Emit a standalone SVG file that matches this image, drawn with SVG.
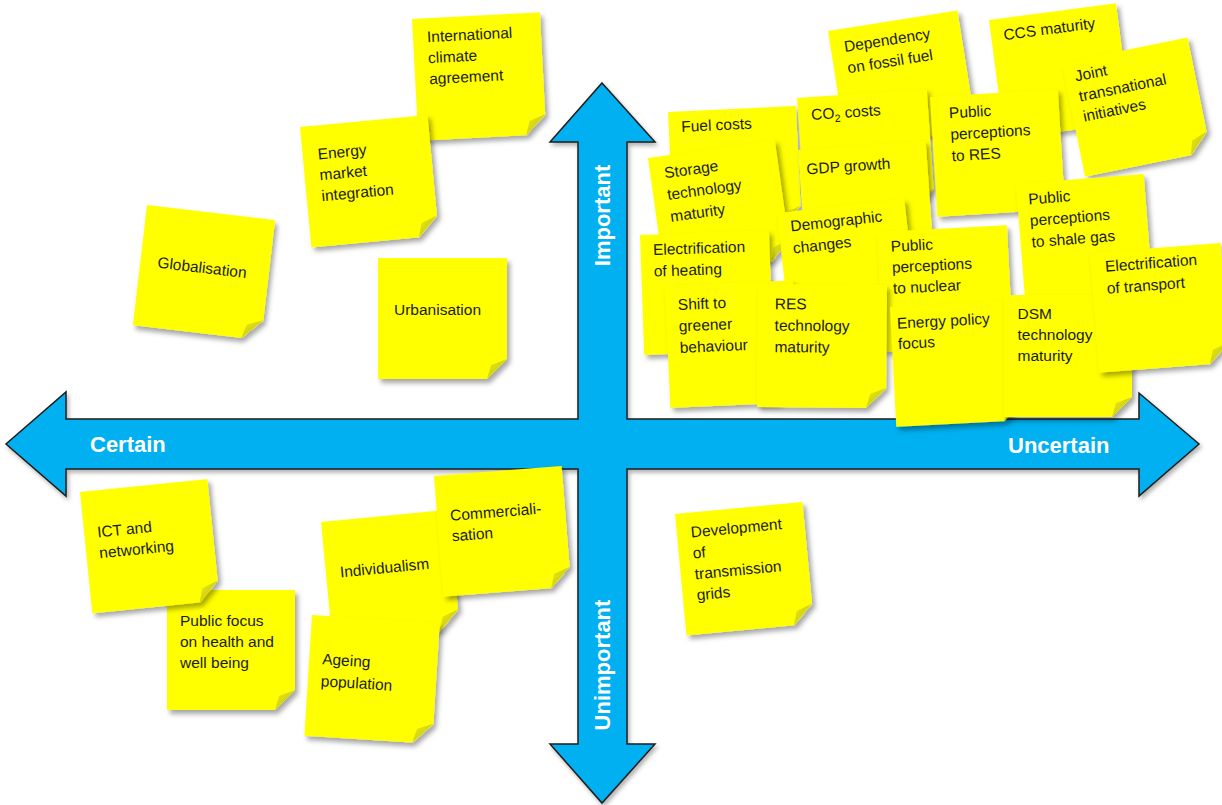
<svg xmlns="http://www.w3.org/2000/svg" width="1222" height="805" viewBox="0 0 1222 805">
<defs>
<filter id="sh" x="-15%" y="-15%" width="135%" height="135%"><feDropShadow dx="3" dy="4" stdDeviation="2.5" flood-color="#000" flood-opacity="0.35"/></filter>
<filter id="ash" x="-5%" y="-5%" width="110%" height="110%"><feDropShadow dx="2" dy="3" stdDeviation="2" flood-color="#000" flood-opacity="0.3"/></filter>
<linearGradient id="fg" x1="0" y1="0" x2="1" y2="1"><stop offset="0" stop-color="#eeee22"/><stop offset="1" stop-color="#b9b900"/></linearGradient>
<style>
.note{fill:#FFFF00;filter:url(#sh)}
.fold{fill:url(#fg)}
.t{font-family:'Liberation Sans',Arial,sans-serif;font-size:15.5px;fill:#1c1c1c}
.ax{font-family:'Liberation Sans',Arial,sans-serif;font-size:22px;font-weight:bold;fill:#fff}
.arrow{fill:#00B0F0;stroke:#1e1e1e;stroke-width:1.5;stroke-linejoin:miter;filter:url(#ash)}
</style>
</defs>
<rect width="1222" height="805" fill="#fff"/>
<g id="axes">
<polygon class="arrow" points="602,83 655,142 627,142 627,419 1139,419 1139,393 1199,444 1139,496 1139,469 627,469 627,744 655,744 602,803 550,744 578,744 578,469 66,469 66,496 6,444 66,392 66,419 578,419 578,142 550,142"/>
<text class="ax" x="90" y="452">Certain</text>
<text class="ax" x="1008" y="453">Uncertain</text>
<text class="ax" text-anchor="middle" transform="translate(610,215.5) rotate(-90)">Important</text>
<text class="ax" text-anchor="middle" transform="translate(610,665) rotate(-90)">Unimportant</text>
</g>
<g id="connectors"/>
<g id="n-intl" transform="translate(412,19) rotate(-3)"><path class="note" d="M0,0H128V102L108,122H0Z"/><path class="fold" d="M128,102L108,122L112,108Z"/><text class="t" x="14" y="24">International</text><text class="t" x="14" y="45">climate</text><text class="t" x="14" y="66">agreement</text></g>
<g id="n-energy-market" transform="translate(300,127) rotate(-5.4)"><path class="note" d="M0,0H128V101L108,121H0Z"/><path class="fold" d="M128,101L108,121L112,107Z"/><text class="t" x="15" y="34">Energy</text><text class="t" x="15" y="55">market</text><text class="t" x="15" y="76">integration</text></g>
<g id="n-globalisation" transform="translate(147,205) rotate(6.7)"><path class="note" d="M0,0H129V101L109,121H0Z"/><path class="fold" d="M129,101L109,121L113,107Z"/><text class="t" x="62" y="61" text-anchor="middle">Globalisation</text></g>
<g id="n-urbanisation" transform="translate(378,258)"><path class="note" d="M0,0H129V101L109,121H0Z"/><path class="fold" d="M129,101L109,121L113,107Z"/><text class="t" x="59.5" y="57" text-anchor="middle">Urbanisation</text></g>
<g id="n-public-focus" transform="translate(167,590)"><path class="note" d="M0,0H128V100L108,120H0Z"/><path class="fold" d="M128,100L108,120L112,106Z"/><text class="t" x="13" y="36">Public focus</text><text class="t" x="13" y="57">on health and</text><text class="t" x="13" y="78">well being</text></g>
<g id="n-ict" transform="translate(80,492) rotate(-5.8)"><path class="note" d="M0,0H128V102L108,122H0Z"/><path class="fold" d="M128,102L108,122L112,108Z"/><text class="t" x="13" y="47">ICT and</text><text class="t" x="13" y="68">networking</text></g>
<g id="n-individualism" transform="translate(321,522) rotate(-5.5)"><path class="note" d="M0,0H128V100L108,120H0Z"/><path class="fold" d="M128,100L108,120L112,106Z"/><text class="t" x="14" y="57">Individualism</text></g>
<g id="n-commercialisation" transform="translate(434,476) rotate(-4.5)"><path class="note" d="M0,0H128V101L108,121H0Z"/><path class="fold" d="M128,101L108,121L112,107Z"/><text class="t" x="13" y="46">Commerciali-</text><text class="t" x="13" y="66.5">sation</text></g>
<g id="n-ageing" transform="translate(312,615) rotate(3.6)"><path class="note" d="M0,0H128V101L108,121H0Z"/><path class="fold" d="M128,101L108,121L112,107Z"/><text class="t" x="13" y="48.5">Ageing</text><text class="t" x="13" y="70.5">population</text></g>
<g id="n-transmission" transform="translate(675,514) rotate(-5.4)"><path class="note" d="M0,0H128V102L108,122H0Z"/><path class="fold" d="M128,102L108,122L112,108Z"/><text class="t" x="14" y="25">Development</text><text class="t" x="14" y="46">of</text><text class="t" x="14" y="67">transmission</text><text class="t" x="14" y="88">grids</text></g>
<g id="n-dependency" transform="translate(828,31) rotate(-9)"><path class="note" d="M0,0H131V100L111,120H0Z"/><path class="fold" d="M131,100L111,120L115,106Z"/><text class="t" x="13.5" y="23.5">Dependency</text><text class="t" x="13.5" y="45">on fossil fuel</text></g>
<g id="n-ccs" transform="translate(989,20) rotate(-7.5)"><path class="note" d="M0,0H128V100L108,120H0Z"/><path class="fold" d="M128,100L108,120L112,106Z"/><text class="t" x="12.5" y="22">CCS maturity</text></g>
<g id="n-fuel" transform="translate(668,112) rotate(-2.7)"><path class="note" d="M0,0H128V100L108,120H0Z"/><path class="fold" d="M128,100L108,120L112,106Z"/><text class="t" x="12.5" y="20.5">Fuel costs</text></g>
<g id="n-co2" transform="translate(797,98) rotate(-4)"><path class="note" d="M0,0H130V100L110,120H0Z"/><path class="fold" d="M130,100L110,120L114,106Z"/><text class="t" x="13" y="23">CO<tspan font-size="10.5" dy="3.5">2</tspan><tspan dy="-3.5"> costs</tspan></text></g>
<g id="n-gdp" transform="translate(798,150) rotate(-4)"><path class="note" d="M0,0H128V100L108,120H0Z"/><path class="fold" d="M128,100L108,120L112,106Z"/><text class="t" x="7" y="25">GDP growth</text></g>
<g id="n-public-res" transform="translate(930,97) rotate(-3.5)"><path class="note" d="M0,0H128V100L108,120H0Z"/><path class="fold" d="M128,100L108,120L112,106Z"/><text class="t" x="18" y="22.5">Public</text><text class="t" x="18" y="44">perceptions</text><text class="t" x="18" y="65.5">to RES</text></g>
<g id="n-joint" transform="translate(1062,63) rotate(-11.5)"><path class="note" d="M0,0H128V96L108,116H0Z"/><path class="fold" d="M128,96L108,116L112,102Z"/><text class="t" x="10" y="21">Joint</text><text class="t" x="10" y="41.5">transnational</text><text class="t" x="10" y="62">initiatives</text></g>
<g id="n-storage" transform="translate(648,158) rotate(-8)"><path class="note" d="M0,0H128V100L108,120H0Z"/><path class="fold" d="M128,100L108,120L112,106Z"/><text class="t" x="14" y="22.5">Storage</text><text class="t" x="14" y="44.5">technology</text><text class="t" x="14" y="66.5">maturity</text></g>
<g id="n-shale" transform="translate(1016,184) rotate(-4.5)"><path class="note" d="M0,0H128V100L108,120H0Z"/><path class="fold" d="M128,100L108,120L112,106Z"/><text class="t" x="11" y="21.5">Public</text><text class="t" x="11" y="43">perceptions</text><text class="t" x="11" y="64.5">to shale gas</text></g>
<g id="n-elec-heat" transform="translate(640,235) rotate(-2)"><path class="note" d="M0,0H129V100L109,120H0Z"/><path class="fold" d="M129,100L109,120L113,106Z"/><text class="t" x="12.5" y="20.5">Electrification</text><text class="t" x="12.5" y="42">of heating</text></g>
<g id="n-demographic" transform="translate(777,213) rotate(-6.3)"><path class="note" d="M0,0H128V100L108,120H0Z"/><path class="fold" d="M128,100L108,120L112,106Z"/><text class="t" x="12" y="20">Demographic</text><text class="t" x="12" y="42">changes</text></g>
<g id="n-nuclear" transform="translate(877,232) rotate(-3)"><path class="note" d="M0,0H130V100L110,120H0Z"/><path class="fold" d="M130,100L110,120L114,106Z"/><text class="t" x="13" y="20.5">Public</text><text class="t" x="13" y="41.5">perceptions</text><text class="t" x="13" y="62.5">to nuclear</text></g>
<g id="n-shift" transform="translate(665,286) rotate(-2.5)"><path class="note" d="M0,0H128V102L108,122H0Z"/><path class="fold" d="M128,102L108,122L112,108Z"/><text class="t" x="12" y="24.5">Shift to</text><text class="t" x="12" y="46">greener</text><text class="t" x="12" y="67.5">behaviour</text></g>
<g id="n-res-tech" transform="translate(758,284) rotate(0.5)"><path class="note" d="M0,0H129V103L109,123H0Z"/><path class="fold" d="M129,103L109,123L113,109Z"/><text class="t" x="17" y="25">RES</text><text class="t" x="17" y="46.5">technology</text><text class="t" x="17" y="68">maturity</text></g>
<g id="n-energy-policy" transform="translate(890,307) rotate(-3)"><path class="note" d="M0,0H128V100L108,120H0Z"/><path class="fold" d="M128,100L108,120L112,106Z"/><text class="t" x="6" y="22">Energy policy</text><text class="t" x="6" y="42.5">focus</text></g>
<g id="n-dsm" transform="translate(1004,295)"><path class="note" d="M0,0H128V102L108,122H0Z"/><path class="fold" d="M128,102L108,122L112,108Z"/><text class="t" x="13.5" y="23.5">DSM</text><text class="t" x="13.5" y="45">technology</text><text class="t" x="13.5" y="66">maturity</text></g>
<g id="n-elec-transport" transform="translate(1090,253) rotate(-4.4)"><path class="note" d="M0,0H131V100L111,120H0Z"/><path class="fold" d="M131,100L111,120L115,106Z"/><text class="t" x="14" y="20">Electrification</text><text class="t" x="14" y="42">of transport</text></g>
</svg>
